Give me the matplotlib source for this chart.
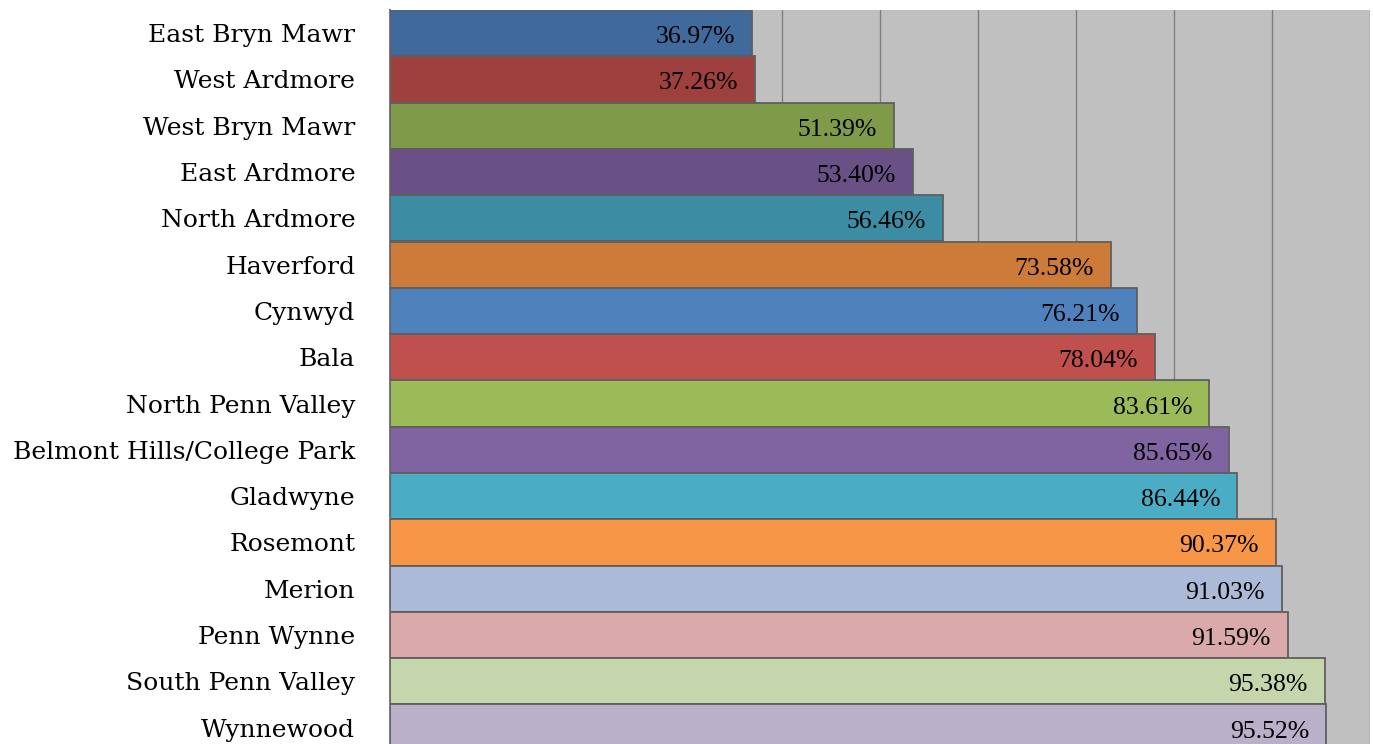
import matplotlib
matplotlib.use("Agg")
import matplotlib.pyplot as plt

categories = ["East Bryn Mawr", "West Ardmore", "West Bryn Mawr", "East Ardmore",
              "North Ardmore", "Haverford", "Cynwyd", "Bala", "North Penn Valley",
              "Belmont Hills/College Park", "Gladwyne", "Rosemont", "Merion",
              "Penn Wynne", "South Penn Valley", "Wynnewood"]
values = [36.97, 37.26, 51.39, 53.40, 56.46, 73.58, 76.21, 78.04, 83.61,
          85.65, 86.44, 90.37, 91.03, 91.59, 95.38, 95.52]
colors = ["#416A9C", "#9E413E", "#7F9A48", "#695185", "#3C8DA3", "#CC7B38",
          "#4F81BD", "#C0504D", "#9BBB59", "#8064A2", "#4BACC6", "#F79646",
          "#AABAD7", "#D9AAA9", "#C6D6AC", "#BAB0C9"]

plt.rcParams['font.family'] = ['Liberation Serif', 'DejaVu Serif']

W, H = 1373, 744
fig = plt.figure(figsize=(W/100, H/100), dpi=100)
left, right = 390, 1370
top, bottom = 10, 10 + 16 * 46.3
ax = fig.add_axes([left/W, 1 - bottom/H, (right-left)/W, (bottom-top)/H])
ax.set_facecolor("#C0C0C0")

pos = list(range(len(categories)))
ax.barh(pos, values, height=1.0, color=colors, edgecolor="#5F5F5F",
        linewidth=1.3, zorder=3)
for p, v in zip(pos, values):
    ax.annotate(f"{v:.2f}%", xy=(v, p), xytext=(-17, -4), textcoords="offset pixels",
                ha="right", va="center", fontsize=18.5, color="black", zorder=4)

ax.set_xlim(0, 100)
ax.set_ylim(15.5, -0.5)
ax.set_xticks(range(0, 101, 10))
ax.xaxis.grid(True, color="#7F7F7F", linewidth=1.0, zorder=0)
ax.set_axisbelow(True)
ax.tick_params(axis="x", length=0, labelbottom=False)
ax.set_yticks(pos)
ax.set_yticklabels(categories, fontsize=18, family=['DejaVu Serif'])
ax.tick_params(axis="y", length=0, pad=25)
for s in ["top", "right", "bottom"]:
    ax.spines[s].set_visible(False)
ax.spines["left"].set_color("#7F7F7F")
ax.spines["left"].set_linewidth(1.5)

fig.savefig("out.png", dpi=100, facecolor="white")
